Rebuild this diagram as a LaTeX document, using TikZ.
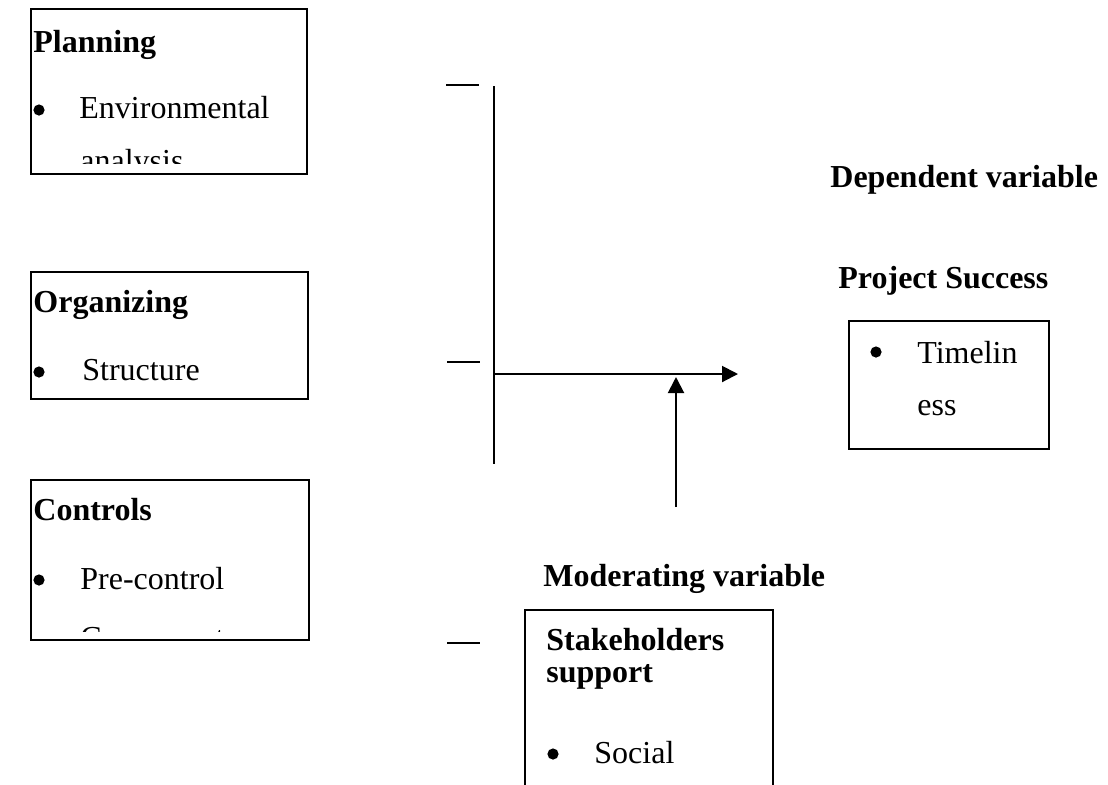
\documentclass[tikz,border=0pt]{standalone}
\usepackage{fontspec}
\setmainfont{Liberation Serif}
\usetikzlibrary{arrows.meta}
\begin{document}
\begin{tikzpicture}[x=0.5pt,y=-0.5pt,
  box/.style={draw,line width=1pt,anchor=north west,inner sep=0pt},
  txt/.style={anchor=base west,inner sep=0pt,font=\fontsize{16pt}{19pt}\selectfont},
  btxt/.style={txt,font=\fontsize{16pt}{19pt}\selectfont\bfseries},
  bul/.style={circle,fill,inner sep=0pt,minimum size=5.6pt},
  ln/.style={line width=1pt},
  arr/.style={line width=1pt,-{Triangle[length=8pt,width=8pt]}}]
\clip (0,0) rectangle (1108,784);
\fill[white] (0,0) rectangle (1108,784);
% Boxes
\node[box,minimum width=138pt,minimum height=82.5pt] (plan) at (30,8) {};
\node[box,minimum width=138.5pt,minimum height=63.5pt] (org) at (30,271) {};
\node[box,minimum width=139pt,minimum height=80pt] (ctrl) at (30,479) {};
\node[box,minimum width=100pt,minimum height=64pt] (time) at (848,320) {};
\node[box,minimum width=124pt,minimum height=100pt] (stake) at (524,609) {};
% Planning
\node[btxt] (planT) at (33,52) {Planning};
\node[bul] (planB) at (39,110) {};
\node[txt] (planE) at (79,118) {Environmental};
\begin{scope}
\clip (31,9) rectangle (305,163);
\node[txt] (planA) at (80,171) {analysis};
\end{scope}
% Organizing
\node[btxt] (orgT) at (33,312) {Organizing};
\node[bul] (orgB) at (39,372) {};
\node[txt] (orgS) at (82,380) {Structure};
% Controls
\node[btxt] (ctrlT) at (33,520) {Controls};
\node[bul] (ctrlB) at (39,580) {};
\node[txt] (ctrlP) at (80,589) {Pre-control};
\begin{scope}
\clip (31,480) rectangle (307,631);
\node[txt] (ctrlC) at (80,648) {Concurrent};
\end{scope}
% Dependent
\node[btxt] (depT) at (830,187) {Dependent variable};
\node[btxt] (psT) at (838,288) {Project Success};
\node[bul] (timeB) at (876,352) {};
\node[txt] (timeT) at (917,363) {Timelin};
\node[txt] (timeE) at (917,415) {ess};
% Moderating
\node[btxt] (modT) at (543,586) {Moderating variable};
\node[btxt] (stT1) at (546,650) {Stakeholders};
\node[btxt] (stT2) at (546,682) {support};
\node[bul] (stB) at (553,754) {};
\node[txt] (stS) at (594,763) {Social};
% Lines
\coordinate (d1a) at (446,85); \coordinate (d1b) at (479,85);
\coordinate (d2a) at (447,362); \coordinate (d2b) at (480,362);
\coordinate (d3a) at (447,643); \coordinate (d3b) at (480,643);
\draw[ln] (d1a) -- (d1b);
\draw[ln] (d2a) -- (d2b);
\draw[ln] (d3a) -- (d3b);
\coordinate (vtop) at (494,86); \coordinate (vbot) at (494,464);
\draw[ln] (vtop) -- (vbot);
\coordinate (hstart) at (494,374); \coordinate (hend) at (738,374);
\draw[arr] (hstart) -- (hend);
\coordinate (ustart) at (676,507); \coordinate (uend) at (676,377);
\draw[arr] (ustart) -- (uend);
\end{tikzpicture}
\end{document}
